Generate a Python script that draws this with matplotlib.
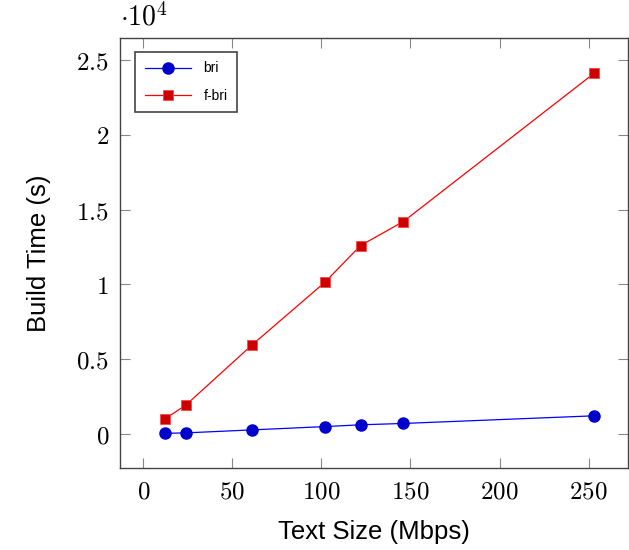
import matplotlib
matplotlib.use('Agg')
import matplotlib.pyplot as plt

text_size = [12, 24, 61, 102, 122, 146, 253]
bri_time = [50, 80, 280, 500, 620, 710, 1220]
fbri_time = [1000, 1950, 5950, 10150, 12600, 14200, 24100]

plt.rcParams['mathtext.fontset'] = 'cm'
plt.rcParams['font.family'] = ['Liberation Sans', 'DejaVu Sans']

fig = plt.figure(figsize=(6.29, 5.5), dpi=100)
ax = fig.add_axes([0.191, 0.149, 0.807, 0.782])

ax.plot(text_size, bri_time, color='#0000ff', lw=0.9, marker='o', ms=8,
        markerfacecolor='#0000cc', markeredgecolor='#0000cc', label='bri')
ax.plot(text_size, fbri_time, color='#ff0000', lw=0.9, marker='s', ms=7.5,
        markerfacecolor='#cc0000', markeredgecolor='#ff4444', markeredgewidth=0.6,
        label='f-bri')

ax.set_xlim(-13, 272)
ax.set_ylim(-2270, 26470)

xt = [0, 50, 100, 150, 200, 250]
ax.set_xticks(xt)
ax.set_xticklabels(['$%d$' % v for v in xt], fontsize=18)
yt = [0, 5000, 10000, 15000, 20000, 25000]
ax.set_yticks(yt)
ax.set_yticklabels(['$0$', '$0.5$', '$1$', '$1.5$', '$2$', '$2.5$'], fontsize=18)

ax.tick_params(direction='in', length=7, width=0.8, color='#888888',
               top=True, right=True, pad=8)
for s in ax.spines.values():
    s.set_color('#444444')
    s.set_linewidth(1.0)

ax.text(0.0, 1.015, r'$\cdot 10^4$', transform=ax.transAxes, fontsize=20,
        ha='left', va='bottom')

ax.set_xlabel('Text Size (Mbps)', fontsize=18.5, labelpad=12)
ax.set_ylabel('Build Time (s)', fontsize=18.5, labelpad=18)

leg = ax.legend(loc='upper left', bbox_to_anchor=(0.03, 0.968), fontsize=10,
                fancybox=False, framealpha=1, edgecolor='#444444',
                handlelength=3.3, handletextpad=0.9, borderpad=0.7,
                labelspacing=0.95, borderaxespad=0)
leg.get_frame().set_linewidth(1.2)

fig.savefig('out.png', dpi=100)
